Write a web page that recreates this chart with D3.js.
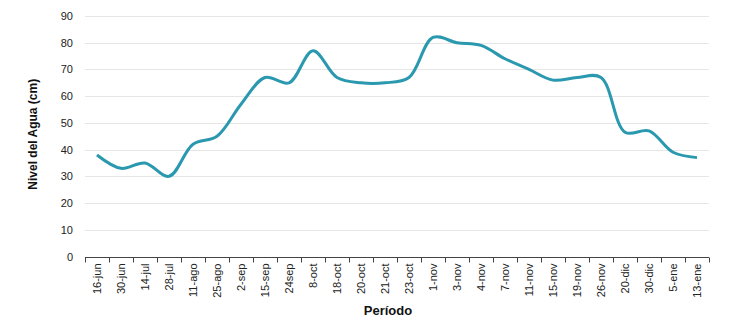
<!DOCTYPE html>
<html>
<head>
<meta charset="utf-8">
<script src="https://cdn.jsdelivr.net/npm/d3@7"></script>
<style>
  html, body { margin: 0; padding: 0; background: #fff; }
  svg { display: block; font-family: Arial, "Liberation Sans", sans-serif; }
</style>
</head>
<body>
<svg id="chart" width="752" height="322"></svg>
<script>
// Water level readings by period
const periods = ["16-jun","30-jun","14-jul","28-jul","11-ago","25-ago","2-sep","15-sep","24sep","8-oct",
  "18-oct","20-oct","21-oct","23-oct","1-nov","3-nov","4-nov","7-nov","11-nov","15-nov",
  "19-nov","26-nov","20-dic","30-dic","5-ene","13-ene"];
const levels = [38, 33, 35, 30, 42, 45, 57, 67, 65, 77,
  67, 65, 65, 67, 82, 80, 79, 74, 70, 66,
  67, 67, 46.5, 47, 39, 37];
const yTicks = [0, 10, 20, 30, 40, 50, 60, 70, 80, 90];

const svg = d3.select("#chart");
const margin = { left: 85, right: 43, top: 16, bottom: 65.5 };
const W = 752, H = 322;

const x = d3.scaleBand().domain(periods).range([margin.left, W - margin.right]);
const y = d3.scaleLinear().domain([0, 90]).range([H - margin.bottom, margin.top]);

// horizontal gridlines
svg.append("g")
  .selectAll("line")
  .data(yTicks.filter(d => d > 0))
  .join("line")
  .attr("x1", margin.left).attr("x2", W - margin.right)
  .attr("y1", d => Math.round(y(d)) + 0.5).attr("y2", d => Math.round(y(d)) + 0.5)
  .attr("stroke", "#e6e6e6").attr("stroke-width", 1);

// y axis labels
const yAxis = svg.append("g")
  .attr("transform", `translate(${margin.left},0)`)
  .call(d3.axisLeft(y).tickValues(yTicks).tickSize(0).tickPadding(12));
yAxis.select(".domain").remove();
yAxis.selectAll("text").attr("font-size", 11).attr("fill", "#222").attr("font-family", "Arial, 'Liberation Sans', sans-serif");

// x axis
const xAxis = svg.append("g")
  .attr("transform", `translate(0,${Math.round(y(0)) + 0.5})`)
  .call(d3.axisBottom(x).tickSize(0).tickPadding(0));
xAxis.select(".domain").attr("stroke", "#444").attr("d", `M${margin.left},0H${W - margin.right}`);
// tick marks at band boundaries
xAxis.append("g").selectAll("line")
  .data(periods.concat([null]))
  .join("line")
  .attr("x1", (d, i) => Math.round(margin.left + i * x.step()) + 0.5)
  .attr("x2", (d, i) => Math.round(margin.left + i * x.step()) + 0.5)
  .attr("y1", 0).attr("y2", 5)
  .attr("stroke", "#444");
xAxis.selectAll(".tick text")
  .attr("transform", "rotate(-90)")
  .attr("text-anchor", "end")
  .attr("x", -6)
  .attr("y", 0)
  .attr("dy", "0.35em")
  .attr("font-size", 11)
  .attr("fill", "#222")
  .attr("font-family", "Arial, 'Liberation Sans', sans-serif");

// the level line
const line = d3.line()
  .x((d, i) => x(periods[i]) + x.bandwidth() / 2)
  .y(d => y(d))
  .curve(d3.curveCatmullRom.alpha(0.5));
svg.append("path")
  .datum(levels)
  .attr("d", line)
  .attr("fill", "none")
  .attr("stroke", "#2a98ae")
  .attr("stroke-width", 3)
  .attr("stroke-linejoin", "round");

// axis titles
svg.append("text")
  .attr("transform", `translate(37,${(margin.top + y(0)) / 2 - 2}) rotate(-90)`)
  .attr("text-anchor", "middle")
  .attr("font-size", 12).attr("font-weight", "bold").attr("fill", "#111")
  .text("Nivel del Agua (cm)");
svg.append("text")
  .attr("x", 388).attr("y", 315)
  .attr("text-anchor", "middle")
  .attr("font-size", 13).attr("font-weight", "bold").attr("fill", "#111")
  .text("Período");
</script>
</body>
</html>
